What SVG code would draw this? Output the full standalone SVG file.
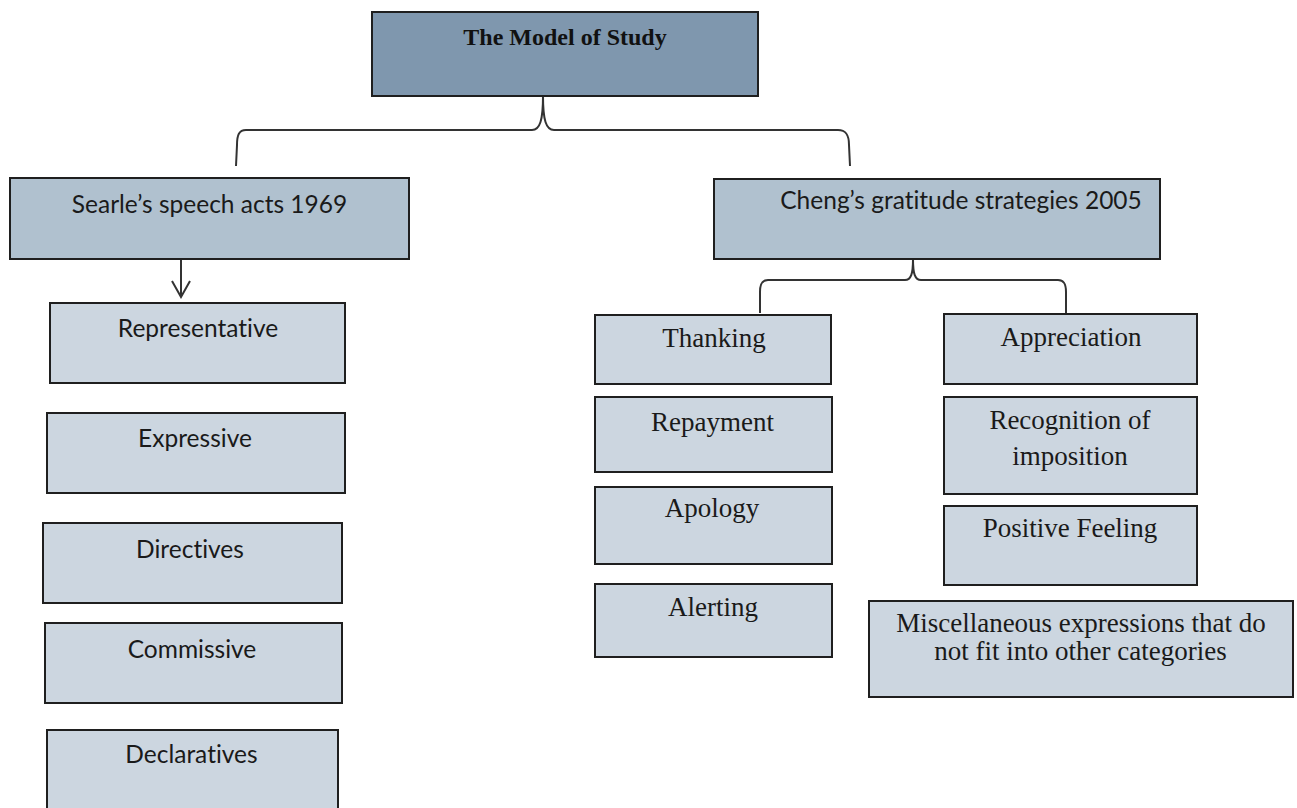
<svg xmlns="http://www.w3.org/2000/svg" width="1297" height="808" viewBox="0 0 1297 808">
<defs>
<style>
.box{stroke:#1f1f1f;stroke-width:2}
.top{fill:#7f97ae}
.mid{fill:#b0c1cf}
.leaf{fill:#ccd6e0}
.sans{font-family:Lato,"Open Sans","Liberation Sans",sans-serif;font-size:24.5px;fill:#1a1a1a;text-anchor:middle;font-variant-ligatures:none}
.serif{font-family:"Liberation Serif","Times New Roman",serif;font-size:27px;fill:#1a1a1a;text-anchor:middle}
.title{font-family:"Liberation Serif","Times New Roman",serif;font-size:24px;font-weight:bold;fill:#111;text-anchor:middle}
.conn{fill:none;stroke:#333;stroke-width:2}
</style>
<marker id="open" viewBox="0 0 20 20" refX="18" refY="10" markerWidth="20" markerHeight="20" markerUnits="userSpaceOnUse" orient="auto">
<path d="M2,1 L18,10 L2,19" fill="none" stroke="#333" stroke-width="2"/>
</marker>
</defs>
<rect width="1297" height="808" fill="#ffffff"/>

<g id="connectors">
<path class="conn" d="M543,96 C543,120 540,130 532,130 L246,130 C239,130 237,135 237,145 L236,166"/>
<path class="conn" d="M543,96 C543,120 546,130 554,130 L838,130 C846,130 849,135 849,145 L850,166"/>
<path class="conn" d="M913,259 C913,274 911,280 905,280 L768,280 C762,280 760,284 760,292 L760,313"/>
<path class="conn" d="M913,259 C913,274 915,280 921,280 L1058,280 C1064,280 1066,284 1066,292 L1066,313"/>
<line class="conn" x1="181" y1="259" x2="181" y2="297" marker-end="url(#open)"/>
</g>

<g id="model">
<rect class="box top" x="372" y="12" width="386" height="84"/>
<text class="title" x="565" y="45">The Model of Study</text>
</g>

<g id="searle">
<rect class="box mid" x="10" y="178" width="399" height="81"/>
<text class="sans" x="209.5" y="213">Searle’s speech acts 1969</text>
</g>

<g id="representative">
<rect class="box leaf" x="50" y="303" width="295" height="80"/>
<text class="sans" x="198" y="337">Representative</text>
</g>
<g id="expressive">
<rect class="box leaf" x="47" y="413" width="298" height="80"/>
<text class="sans" x="195" y="447">Expressive</text>
</g>
<g id="directives">
<rect class="box leaf" x="43" y="523" width="299" height="80"/>
<text class="sans" x="190" y="558">Directives</text>
</g>
<g id="commissive">
<rect class="box leaf" x="45" y="623" width="297" height="80"/>
<text class="sans" x="192" y="658">Commissive</text>
</g>
<g id="declaratives">
<rect class="box leaf" x="47" y="730" width="291" height="90"/>
<text class="sans" x="191.5" y="763">Declaratives</text>
</g>

<g id="cheng">
<rect class="box mid" x="714" y="179" width="446" height="80"/>
<text class="sans" x="961" y="209">Cheng’s gratitude strategies 2005</text>
</g>

<g id="thanking">
<rect class="box leaf" x="595" y="315" width="236" height="69"/>
<text class="serif" x="714" y="347">Thanking</text>
</g>
<g id="repayment">
<rect class="box leaf" x="595" y="397" width="237" height="75"/>
<text class="serif" x="712.5" y="431">Repayment</text>
</g>
<g id="apology">
<rect class="box leaf" x="595" y="487" width="237" height="77"/>
<text class="serif" x="712" y="517">Apology</text>
</g>
<g id="alerting">
<rect class="box leaf" x="595" y="584" width="237" height="73"/>
<text class="serif" x="713" y="616">Alerting</text>
</g>

<g id="appreciation">
<rect class="box leaf" x="944" y="314" width="253" height="70"/>
<text class="serif" x="1071" y="346">Appreciation</text>
</g>
<g id="recognition">
<rect class="box leaf" x="944" y="397" width="253" height="97"/>
<text class="serif" x="1070" y="429">Recognition of</text>
<text class="serif" x="1070" y="465">imposition</text>
</g>
<g id="positive">
<rect class="box leaf" x="944" y="506" width="253" height="79"/>
<text class="serif" x="1070" y="537">Positive Feeling</text>
</g>
<g id="misc">
<rect class="box leaf" x="869" y="601" width="424" height="96"/>
<text class="serif" x="1081" y="632">Miscellaneous expressions that do</text>
<text class="serif" x="1080.5" y="660">not fit into other categories</text>
</g>
</svg>
